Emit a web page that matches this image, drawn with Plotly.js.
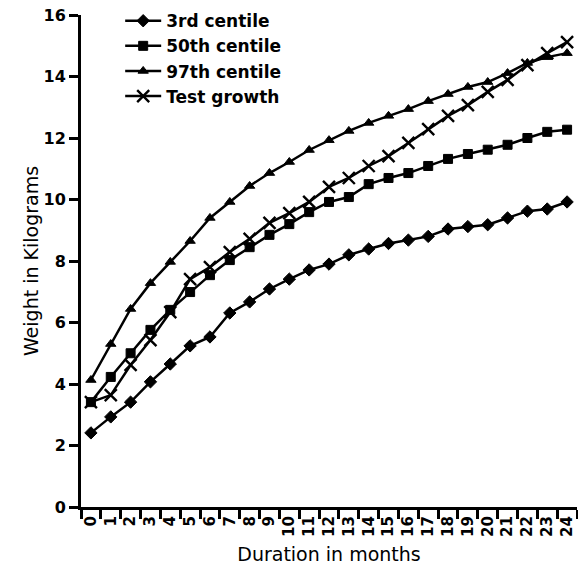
<!DOCTYPE html>
<html>
<head>
<meta charset="utf-8">
<script src="https://cdn.plot.ly/plotly-3.0.1.min.js"></script>
<style>
html,body{margin:0;padding:0;background:#fff;}
#chart{width:578px;height:566px;}
</style>
</head>
<body>
<div id="chart"></div>
<script>
var months = [0,1,2,3,4,5,6,7,8,9,10,11,12,13,14,15,16,17,18,19,20,21,22,23,24];
var centile3 = [2.41,2.93,3.41,4.07,4.65,5.24,5.53,6.31,6.67,7.09,7.41,7.71,7.9,8.2,8.39,8.57,8.68,8.8,9.04,9.12,9.18,9.4,9.62,9.69,9.92];
var centile50 = [3.41,4.23,5.0,5.76,6.41,6.99,7.54,8.03,8.45,8.85,9.2,9.59,9.92,10.08,10.5,10.7,10.86,11.09,11.32,11.48,11.62,11.78,12.0,12.2,12.27];
var centile97 = [4.13,5.3,6.44,7.28,7.97,8.65,9.4,9.92,10.44,10.86,11.22,11.61,11.93,12.23,12.49,12.72,12.94,13.2,13.43,13.66,13.82,14.11,14.44,14.63,14.76];
var testGrowth = [3.41,3.64,4.62,5.43,6.34,7.41,7.8,8.29,8.72,9.24,9.56,9.92,10.41,10.7,11.09,11.41,11.84,12.29,12.72,13.07,13.5,13.89,14.37,14.76,15.12];
var seriesNames = ['3rd centile','50th centile','97th centile','Test growth'];
var yTicks = [0,2,4,6,8,10,12,14,16];

function mk(y, name, symbol, size, lw) {
  return {
    x: months, y: y, name: name, type: 'scatter', mode: 'lines+markers',
    line: {color: '#000', width: 2.5},
    marker: {symbol: symbol, size: size, color: '#000', line: {color: '#000', width: lw || 1}}
  };
}

var data = [
  mk(centile3, seriesNames[0], 'diamond', 9.5),
  mk(centile50, seriesNames[1], 'square', 9),
  mk(centile97, seriesNames[2], 'triangle-up', 9),
  mk(testGrowth, seriesNames[3], 'x-thin', 12, 2.4)
];

var layout = {
  width: 578, height: 566,
  margin: {l: 81, r: 1, t: 15, b: 59, pad: 0},
  paper_bgcolor: '#fff', plot_bgcolor: '#fff',
  showlegend: true,
  legend: {
    x: 0.079, xanchor: 'left', y: 1.024, yanchor: 'top',
    bgcolor: 'rgba(0,0,0,0)', borderwidth: 0,
    itemwidth: 36,
    font: {family: 'DejaVu Sans', size: 17, color: '#000', weight: 'bold'},
    itemclick: false
  },
  xaxis: {
    type: 'category',
    range: [-0.5, 24.5],
    tickson: 'boundaries',
    ticks: 'outside', ticklen: 9, tickwidth: 3, tickcolor: '#000',
    tickangle: -90,
    tickfont: {family: 'DejaVu Sans', size: 15, color: '#000', weight: 'bold'},
    showline: true, linecolor: '#000', linewidth: 3,
    showgrid: false, zeroline: false,
    title: {text: 'Duration in months', font: {family: 'DejaVu Sans', size: 19, color: '#000'}, standoff: 12},
    automargin: false,
    fixedrange: true
  },
  yaxis: {
    range: [0, 16],
    tickmode: 'array', tickvals: yTicks,
    ticks: 'outside', ticklen: 9, tickwidth: 3, tickcolor: '#000',
    tickfont: {family: 'DejaVu Sans', size: 16, color: '#000', weight: 'bold'},
    showline: true, linecolor: '#000', linewidth: 3,
    showgrid: false, zeroline: false,
    title: {text: 'Weight in Kilograms', font: {family: 'DejaVu Sans', size: 19, color: '#000'}, standoff: 0},
    automargin: false,
    fixedrange: true
  }
};

Plotly.newPlot('chart', data, layout, {displayModeBar: false, staticPlot: true});
</script>
</body>
</html>
